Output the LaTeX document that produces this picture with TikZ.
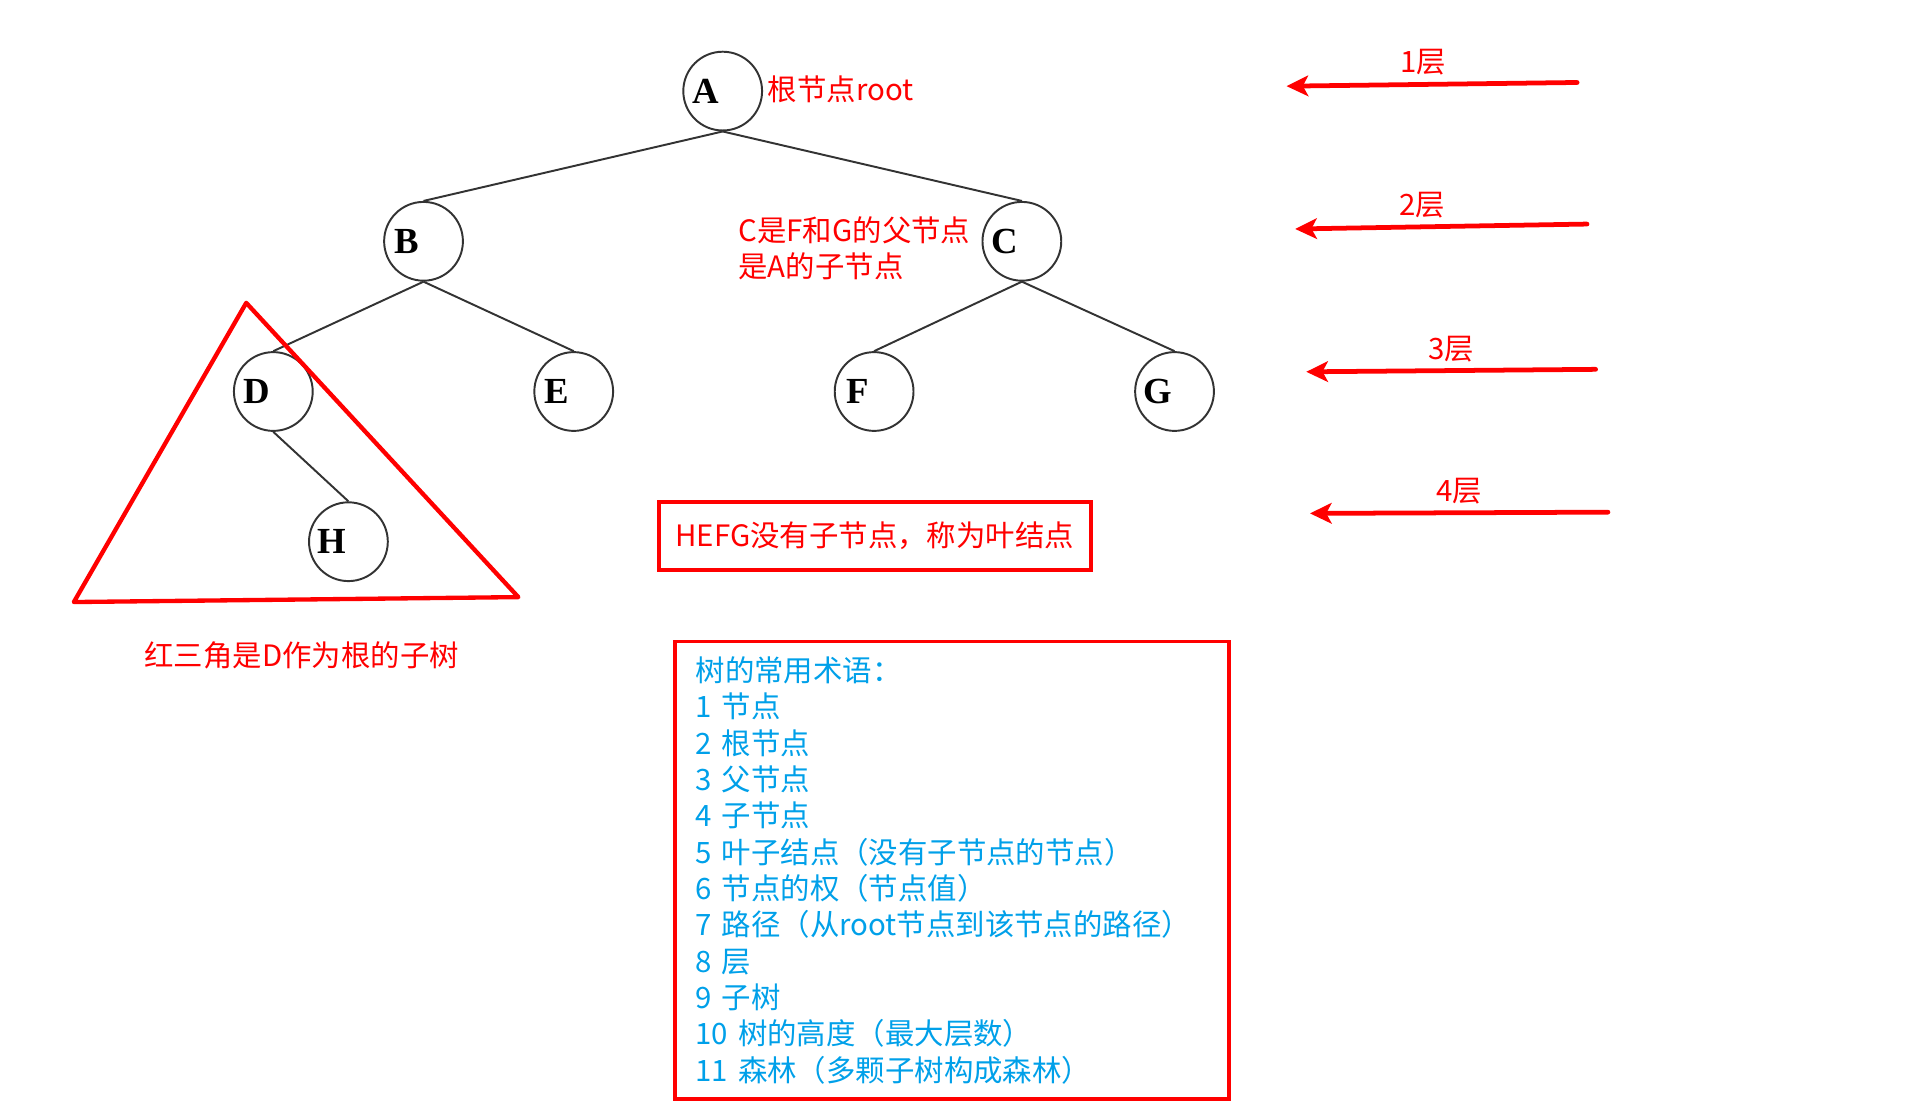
\documentclass[tikz,border=0pt]{standalone}
\usepackage{fontspec}
\usetikzlibrary{positioning,arrows.meta}
\newfontfamily\cjkfont{Noto Sans CJK SC}
\newfontfamily\letterfont{Liberation Serif}
\definecolor{termblue}{RGB}{0,160,233}
\definecolor{nodegray}{RGB}{51,51,51}

\begin{document}
\begin{tikzpicture}[x=0.02cm, y=-0.02cm]
\tikzset{
	treenode/.style={circle, draw=nodegray, line width=0.9pt, minimum size=1.28cm, inner sep=0pt,
		label={[font=\letterfont\bfseries\fontsize{17}{17}\selectfont, xshift=-0.27cm]center:#1}},
	treeedge/.style={draw=nodegray, line width=0.9pt},
	note/.style={font=\cjkfont\fontsize{13.6}{16.8}\selectfont, text=red},
	redbox/.style={draw=red, line width=1.8pt, inner sep=0pt},
	layerarrow/.style={draw=red, line width=2.2pt, line cap=round, -{Stealth[length=10pt, width=9.5pt, inset=2.5pt]}},
	layerlabel/.style={note, above, inner sep=3pt}
}
	\useasboundingbox (0,0) rectangle (1566,898.3);
	\node[treenode=A] (A) at (587,74) {};
	\node[treenode=B] (B) at (344,196) {};
	\node[treenode=C] (C) at (830,196) {};
	\node[treenode=D] (D) at (222,318) {};
	\node[treenode=E] (E) at (466,318) {};
	\node[treenode=F] (F) at (710,318) {};
	\node[treenode=G] (G) at (954,318) {};
	\node[treenode=H] (H) at (283,440) {};
	\draw[treeedge] (A.south) -- (B.north);
	\draw[treeedge] (A.south) -- (C.north);
	\draw[treeedge] (B.south) -- (D.north);
	\draw[treeedge] (B.south) -- (E.north);
	\draw[treeedge] (C.south) -- (F.north);
	\draw[treeedge] (C.south) -- (G.north);
	\draw[treeedge] (D.south) -- (H.north);
	\node[note, right=0pt of A, inner sep=2pt, yshift=0.03cm] (rootnote) {根节点root};
	\node[note, left=3pt of C, yshift=-0.11cm, align=left, inner sep=2pt] (parentnote) {C是F和G的父节点\\是A的子节点};
	\draw[draw=red, line width=2pt, line join=round] (200,246) -- (60,489) -- (421,485) -- cycle;
	\node[note] (subtreenote) at (245,532) {红三角是D作为根的子树};
	\node[note, redbox, minimum width=7.02cm, minimum height=1.1cm] (leafbox) at (710.5,435.5) {HEFG没有子节点，称为叶结点};
	\node[redbox, minimum width=9cm, minimum height=7.44cm, text width=8.32cm, inner xsep=0.34cm, align=left,
		font=\cjkfont\fontsize{13.6}{16.8}\selectfont, text=termblue] (termbox) at (773,707) {树的常用术语：\\
		1 节点\\
		2 根节点\\
		3 父节点\\
		4 子节点\\
		5 叶子结点（没有子节点的节点）\\
		6 节点的权（节点值）\\
		7 路径（从root节点到该节点的路径）\\
		8 层\\
		9 子树\\
		10 树的高度（最大层数）\\
		11 森林（多颗子树构成森林）};
	\coordinate (tail1) at (1281,67);
	\coordinate (tip1) at (1045,70);
	\coordinate (tail2) at (1289,182);
	\coordinate (tip2) at (1052,186);
	\coordinate (tail3) at (1296,300);
	\coordinate (tip3) at (1061,302);
	\coordinate (tail4) at (1306,416);
	\coordinate (tip4) at (1064,417);
	\draw[layerarrow] (tail1) -- node[layerlabel, pos=0.53] {1层} (tip1);
	\draw[layerarrow] (tail2) -- node[layerlabel, pos=0.565] {2层} (tip2);
	\draw[layerarrow] (tail3) -- node[layerlabel, pos=0.5] {3层} (tip3);
	\draw[layerarrow] (tail4) -- node[layerlabel, pos=0.5] {4层} (tip4);
\end{tikzpicture}
\end{document}
